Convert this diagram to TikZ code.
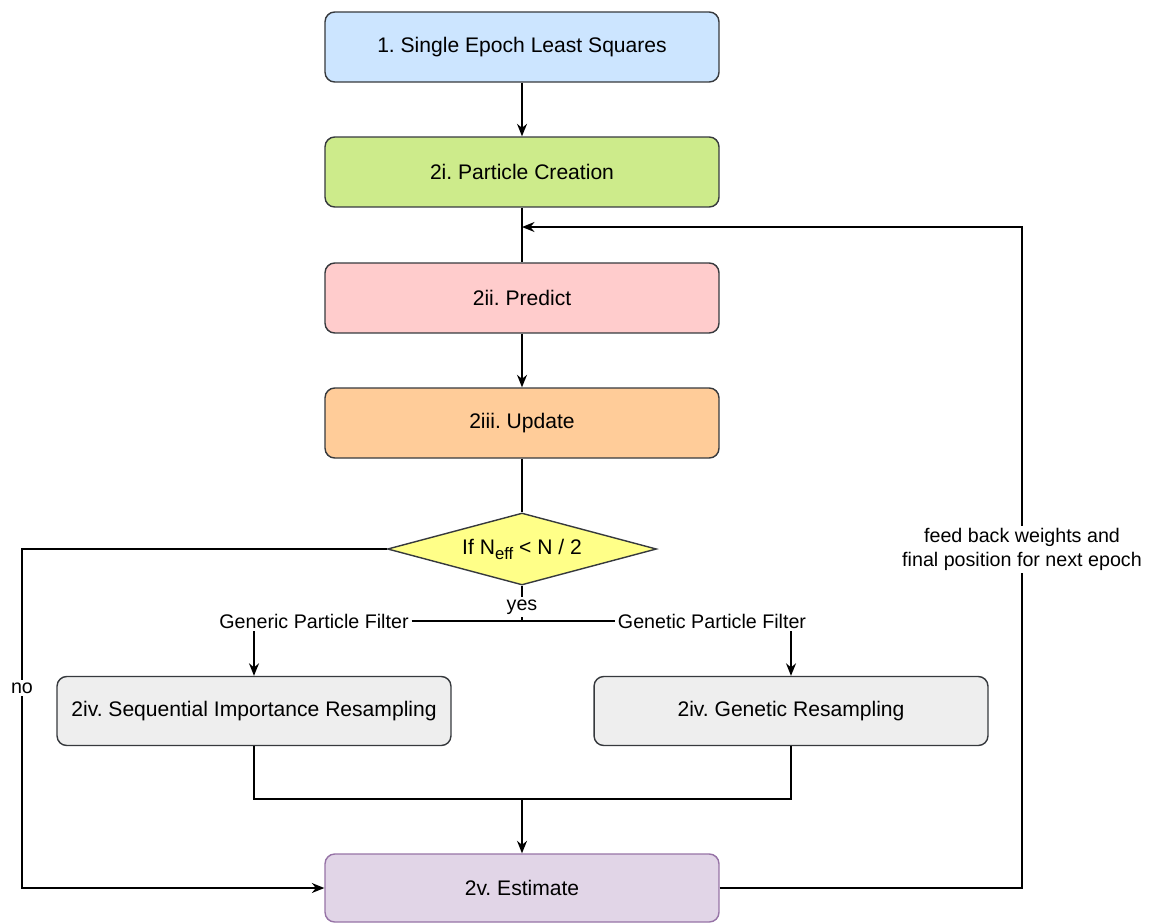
\documentclass[tikz,border=0pt]{standalone}
\usepackage{fontspec}
\setmainfont{Liberation Sans}
\usetikzlibrary{arrows.meta,shapes.geometric}
\definecolor{edge}{HTML}{36393D}
\definecolor{lsqblue}{HTML}{CCE5FF}
\definecolor{creategreen}{HTML}{CDEB8B}
\definecolor{predictpink}{HTML}{FFCCCC}
\definecolor{updateorange}{HTML}{FFCC99}
\definecolor{testyellow}{HTML}{FFFF88}
\definecolor{resampgray}{HTML}{EEEEEE}
\definecolor{estpurple}{HTML}{E1D5E7}
\definecolor{estedge}{HTML}{9673A6}
\frenchspacing

\begin{document}
\begin{tikzpicture}[x=0.02cm,y=-0.02cm,font=\fontsize{12}{14}\selectfont,
  stage/.style={draw=edge,line width=0.8pt,rounded corners=5.5pt,
    minimum width=7.88cm,minimum height=1.4cm,inner sep=0pt},
  test/.style={draw=edge,line width=0.8pt,diamond,aspect=3.7,fill=testyellow,
    minimum width=5.38cm,minimum height=1.44cm,inner sep=0pt},
  lbl/.style={font=\fontsize{11.2}{13.5}\selectfont,inner sep=1.5pt},
  link/.style={line width=0.8pt},
  arr/.style={link,-{Stealth[length=0.25cm,width=0.2cm]}}]
  \useasboundingbox (0,0) rectangle (1152,923);
  % main column
  \node[stage,fill=lsqblue] (lsq) at (522,47) {1. Single Epoch Least Squares};
  \node[stage,fill=creategreen] (create) at (522,172) {2i. Particle Creation};
  \node[stage,fill=predictpink] (predict) at (522,298) {2ii. Predict};
  \node[stage,fill=updateorange] (update) at (522,423) {2iii. Update};
  \node[test] (test) at (522,549)
    {If N\raisebox{-0.45ex}{\fontsize{9.5}{10}\selectfont eff} < N / 2};
  % resampling branches
  \node[lbl] (generic) at (314,621) {Generic Particle Filter};
  \node[lbl] (genetic) at (712,621) {Genetic Particle Filter};
  \node[stage,fill=resampgray,minimum height=1.38cm] (sir) at (254,711) {2iv. Sequential Importance Resampling};
  \node[stage,fill=resampgray,minimum height=1.38cm] (gr) at (791,711) {2iv. Genetic Resampling};
  \node[stage,draw=estedge,fill=estpurple,minimum height=1.36cm] (est) at (522,888) {2v. Estimate};
  \coordinate (fork) at (522,621);
  \coordinate (join) at (522,799);
  \coordinate (back) at (1022,227);
  \coordinate (fb) at (522,227);
  \coordinate (nocorner) at (22,549);
  % connectors
  \draw[arr] (lsq) -- (create);
  \draw[link] (create) -- (predict);
  \draw[arr] (predict) -- (update);
  \draw[link] (update) -- (test);
  \draw[link] (test) -- (fork);
  \node[lbl,fill=white] (yes) at (522,607) {yes};
  \draw[link] (generic) -- (genetic);
  \draw[arr] (sir.north |- generic.south) -- (sir.north);
  \draw[arr] (gr.north |- genetic.south) -- (gr.north);
  \draw[link] (sir.south) |- (join) -| (gr.south);
  \draw[arr] (join) -- (est);
  \draw[arr] (test.west) -- (nocorner) |- (est.west)
    node[lbl,pos=0.205,fill=white] {no};
  \draw[arr] (est.east) -| (back) node[lbl,pos=0.756,fill=white,align=center]
    {feed back weights and\\final position for next epoch} -- (fb);
\end{tikzpicture}
\end{document}
